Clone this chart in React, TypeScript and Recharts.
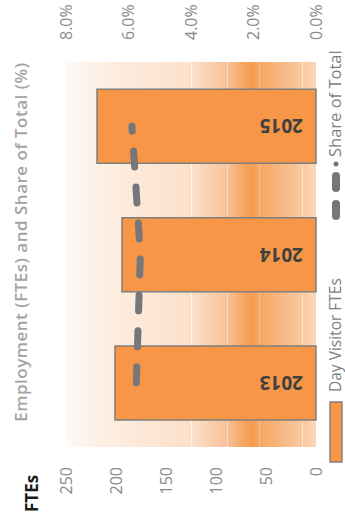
import { ComposedChart, Bar, Line, XAxis, YAxis, CartesianGrid, LabelList } from 'recharts';

// chart values
const years = ['2013', '2014', '2015'];
const dayVisitorFtes = [201, 194, 219];
const shareOfTotal = [5.75, 5.62, 5.89]; // %
const fteTicks = [0, 50, 100, 150, 200, 250];
const shareTicks = [0, 2, 4, 6, 8];

const data = years.map((year, i) => ({
  year,
  ftes: dayVisitorFtes[i],
  share: shareOfTotal[i],
}));

// chart is drawn landscape and turned a quarter turn to fit the portrait page
const W = 530;
const H = 345;
const font = '"Open Sans", sans-serif';
const orange = '#f79646';
const grey = '#7f7f7f';

// soft orange band behind the plot
const bgStops: [number, string][] = [
  [0, '#fefaf6'],
  [0.13, '#fdf0e4'],
  [0.33, '#fde7d6'],
  [0.5, '#fcdfc8'],
  [0.502, '#fff3ea'],
  [0.506, '#fcdfc8'],
  [0.6, '#f9cca8'],
  [0.643, '#f8c29a'],
  [0.645, '#fde3cf'],
  [0.649, '#f8c096'],
  [0.68, '#f7b27c'],
  [0.72, '#f5a35a'],
  [0.745, '#f59d50'],
  [0.77, '#f6a664'],
  [0.772, '#fbd2b0'],
  [0.776, '#f6a866'],
  [0.86, '#f7b882'],
  [0.944, '#f9c9a0'],
  [0.946, '#fde4cf'],
  [0.95, '#f9caa2'],
  [1, '#fbd9bc'],
];

const YearLabel = (props: any) => {
  const { x, y, width, height, value } = props;
  const bx = x + width / 2 + 7;
  const by = y + height - 13;
  return (
    <text
      x={bx}
      y={by}
      transform={`rotate(-90 ${bx} ${by})`}
      fontFamily={font}
      fontWeight={700}
      fontSize={19}
      fill="#404040"
    >
      {value}
    </text>
  );
};

const tickStyle = { fontFamily: font, fontSize: 16, fill: '#8a8a8a' };

export default function App() {
  return (
    <div style={{ position: 'fixed', left: 0, top: 0, width: H, height: W, overflow: 'hidden', background: '#fff' }}>
      <div
        style={{
          position: 'absolute',
          left: 0,
          top: 0,
          width: W,
          height: H,
          transform: `translateY(${W}px) rotate(-90deg)`,
          transformOrigin: '0 0',
        }}
      >
        <ComposedChart width={W} height={H} data={data} margin={{ top: 66, right: 0, bottom: 29, left: 0 }}>
          <defs>
            <linearGradient id="bgBand" x1="0" y1="0" x2="0" y2="1">
              {bgStops.map(([o, c], i) => (
                <stop key={i} offset={o} stopColor={c} />
              ))}
            </linearGradient>
          </defs>
          <CartesianGrid horizontal={false} vertical={false} fill="url(#bgBand)" stroke="none" />
          <XAxis dataKey="year" hide />
          <YAxis
            yAxisId="left"
            domain={[0, 250]}
            ticks={fteTicks}
            width={83}
            axisLine={false}
            tickLine={false}
            tickSize={0}
            tickMargin={20}
            tick={tickStyle}
          />
          <YAxis
            yAxisId="right"
            orientation="right"
            domain={[0, 8]}
            ticks={shareTicks}
            width={62}
            axisLine={false}
            tickLine={false}
            tickSize={0}
            tickMargin={22}
            tick={tickStyle}
            tickFormatter={(v: number) => `${v.toFixed(1)}%`}
          />
          <Bar
            yAxisId="left"
            dataKey="ftes"
            name="Day Visitor FTEs"
            barSize={74}
            fill={orange}
            stroke={grey}
            strokeWidth={1.5}
            isAnimationActive={false}
          >
            <LabelList dataKey="year" content={YearLabel} />
          </Bar>
          <Line
            yAxisId="right"
            dataKey="share"
            name="Share of Total"
            type="linear"
            stroke="#76777a"
            strokeWidth={7}
            strokeDasharray="16 20"
            strokeLinecap="round"
            dot={false}
            activeDot={false}
            isAnimationActive={false}
          />
        </ComposedChart>
        <svg
          width={W}
          height={H}
          style={{ position: 'absolute', left: 0, top: 0, pointerEvents: 'none' }}
        >
          <text x={288} y={27} textAnchor="middle" fontFamily={font} fontSize={17} fontWeight={600} letterSpacing={0.5} fill="#a3a3a3">
            Employment (FTEs) and Share of Total (%)
          </text>
          <text x={18} y={38} fontFamily={font} fontSize={17} fontWeight={700} fill="#1a1a1a">
            FTEs
          </text>
          <rect x={68} y={330} width={60} height={12} fill={orange} stroke={grey} strokeWidth={1.5} />
          <text x={138} y={341} fontFamily={font} fontSize={15.5} fill={grey}>
            Day Visitor FTEs
          </text>
          <line x1={314} y1={336} x2={326} y2={336} stroke="#76777a" strokeWidth={8} strokeLinecap="round" />
          <line x1={342} y1={336} x2={354} y2={336} stroke="#76777a" strokeWidth={8} strokeLinecap="round" />
          <circle cx={366} cy={336} r={2.5} fill="#76777a" />
          <text x={373} y={341} fontFamily={font} fontSize={16.5} fill={grey}>
            Share of Total
          </text>
        </svg>
      </div>
    </div>
  );
}
